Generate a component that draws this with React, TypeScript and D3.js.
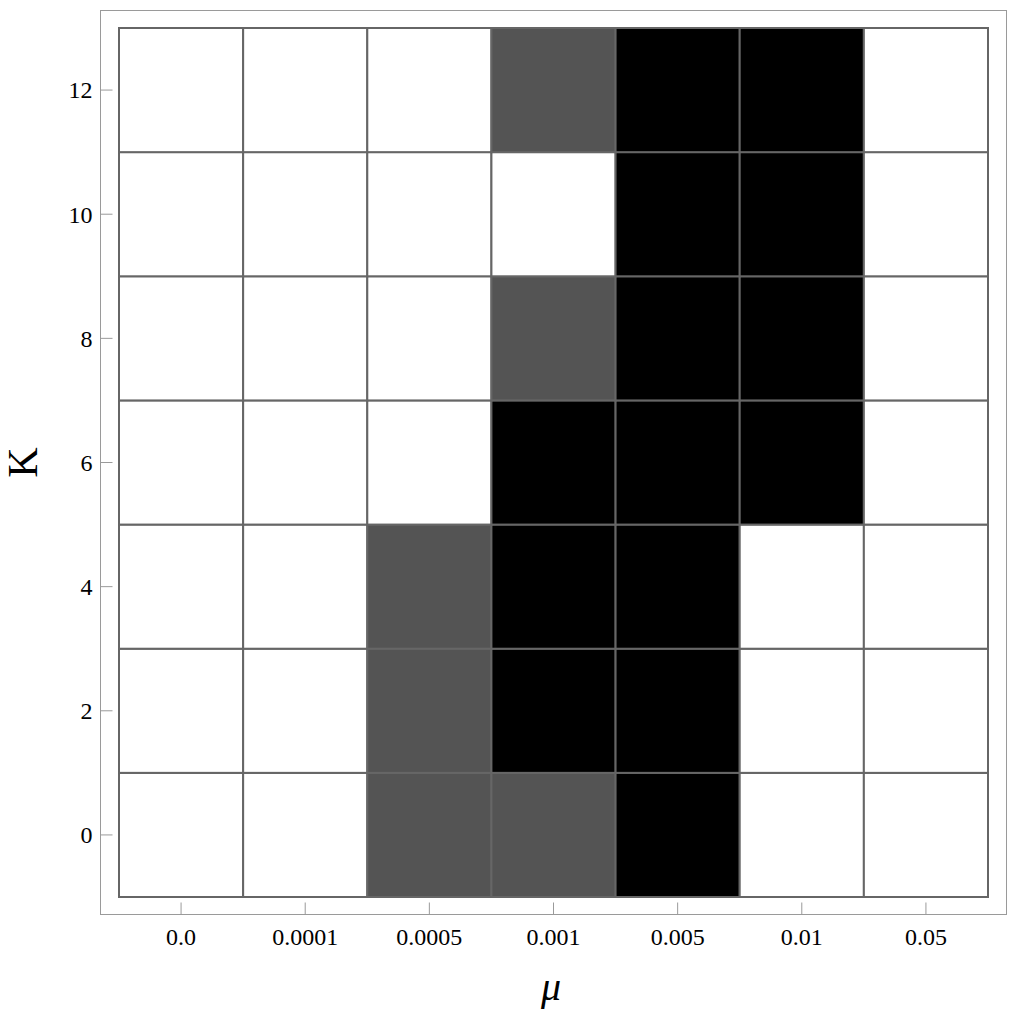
import React, { useEffect, useRef } from "react";
import * as d3 from "d3";

// column categories (mu) and row values (K)
const muLabels = ["0.0", "0.0001", "0.0005", "0.001", "0.005", "0.01", "0.05"];
const kValues = [0, 2, 4, 6, 8, 10, 12];
// cell state per row (K=0 first): 0 = white, 1 = gray, 2 = black
const cellStates = [
    [0, 0, 1, 1, 2, 0, 0],
    [0, 0, 1, 2, 2, 0, 0],
    [0, 0, 1, 2, 2, 0, 0],
    [0, 0, 0, 2, 2, 2, 0],
    [0, 0, 0, 1, 2, 2, 0],
    [0, 0, 0, 0, 2, 2, 0],
    [0, 0, 0, 1, 2, 2, 0],
];
const yTicks = [0, 2, 4, 6, 8, 10, 12];
const stateColors = ["#ffffff", "#545454", "#000000"];

const App = () => {
    const ref = useRef<SVGSVGElement>(null);

    useEffect(() => {
        const svg = d3.select(ref.current);
        svg.selectAll("*").remove();

        const width = 1024;
        const height = 1024;
        const frame = { left: 100.5, top: 10.5, right: 1006.5, bottom: 914.5 };
        const grid = { left: 119, top: 28, right: 988, bottom: 897 };
        const font = "'Liberation Serif', 'Times New Roman', serif";

        svg.attr("width", width).attr("height", height).style("background", "white");

        const xScale = d3.scaleBand<string>()
            .domain(muLabels)
            .range([grid.left, grid.right])
            .padding(0);
        const yScale = d3.scaleLinear()
            .domain([-1, 13])
            .range([grid.bottom, grid.top]);

        // outer frame
        svg.append("rect")
            .attr("x", frame.left)
            .attr("y", frame.top)
            .attr("width", frame.right - frame.left)
            .attr("height", frame.bottom - frame.top)
            .attr("fill", "none")
            .attr("stroke", "#9a9a9a")
            .attr("stroke-width", 1);

        // cells
        const cells: { col: string; k: number; state: number }[] = [];
        cellStates.forEach((row, ri) => {
            row.forEach((state, ci) => {
                cells.push({ col: muLabels[ci], k: kValues[ri], state });
            });
        });

        svg.append("g")
            .selectAll("rect")
            .data(cells)
            .enter()
            .append("rect")
            .attr("x", (d) => xScale(d.col)!)
            .attr("y", (d) => yScale(d.k + 1))
            .attr("width", xScale.bandwidth())
            .attr("height", (d) => yScale(d.k - 1) - yScale(d.k + 1))
            .attr("fill", (d) => stateColors[d.state])
            .attr("stroke", "#666666")
            .attr("stroke-width", 2);

        // y axis ticks (inside the frame)
        const yAxis = svg.append("g");
        yAxis.selectAll("line")
            .data(yTicks)
            .enter()
            .append("line")
            .attr("x1", frame.left)
            .attr("x2", frame.left + 12)
            .attr("y1", (d) => yScale(d))
            .attr("y2", (d) => yScale(d))
            .attr("stroke", "#9a9a9a")
            .attr("stroke-width", 1);
        yAxis.selectAll("text")
            .data(yTicks)
            .enter()
            .append("text")
            .attr("x", frame.left - 8)
            .attr("y", (d) => yScale(d))
            .attr("dy", "0.35em")
            .attr("text-anchor", "end")
            .style("font-family", font)
            .style("font-size", "24px")
            .text((d) => String(d));

        // x axis ticks
        const xAxis = svg.append("g");
        xAxis.selectAll("line")
            .data(muLabels)
            .enter()
            .append("line")
            .attr("x1", (d) => xScale(d)! + xScale.bandwidth() / 2)
            .attr("x2", (d) => xScale(d)! + xScale.bandwidth() / 2)
            .attr("y1", frame.bottom)
            .attr("y2", frame.bottom - 12)
            .attr("stroke", "#9a9a9a")
            .attr("stroke-width", 1);
        xAxis.selectAll("text")
            .data(muLabels)
            .enter()
            .append("text")
            .attr("x", (d) => xScale(d)! + xScale.bandwidth() / 2)
            .attr("y", 945)
            .attr("text-anchor", "middle")
            .style("font-family", font)
            .style("font-size", "24px")
            .text((d) => d);

        // axis titles
        svg.append("text")
            .attr("transform", "translate(37," + yScale(6) + ") rotate(-90)")
            .attr("text-anchor", "middle")
            .style("font-family", font)
            .style("font-size", "42px")
            .text("K");

        svg.append("text")
            .attr("x", 551)
            .attr("y", 1000)
            .attr("text-anchor", "middle")
            .style("font-family", font)
            .style("font-style", "italic")
            .style("font-size", "40px")
            .text("μ");
    }, []);

    return (
        <svg ref={ref} style={{ position: "absolute", left: 0, top: 0 }}></svg>
    );
};

export default App;
